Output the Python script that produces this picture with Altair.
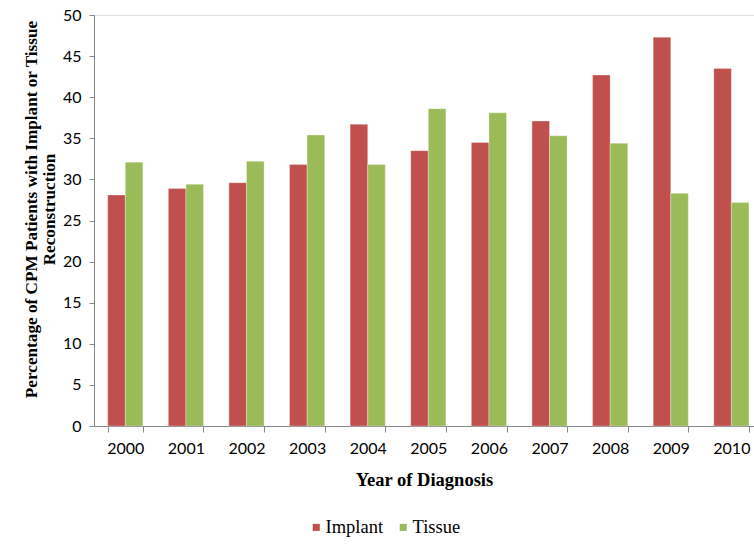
import altair as alt
import pandas as pd

years = ["2000", "2001", "2002", "2003", "2004", "2005", "2006", "2007", "2008", "2009", "2010"]
implant = [28.1, 28.9, 29.6, 31.8, 36.7, 33.5, 34.5, 37.1, 42.7, 47.3, 43.5]
tissue = [32.1, 29.4, 32.2, 35.4, 31.8, 38.6, 38.1, 35.3, 34.4, 28.3, 27.2]
series = ["Implant", "Tissue"]
colors = ["#C0504D", "#9BBB59"]

rows = []
for y, a, b in zip(years, implant, tissue):
    rows.append({"year": y, "series": "Implant", "value": a})
    rows.append({"year": y, "series": "Tissue", "value": b})
df = pd.DataFrame(rows)

chart = alt.Chart(df).mark_bar(stroke="white", strokeOpacity=0.5, strokeWidth=0.6).encode(
    x=alt.X("year:N", sort=years,
            scale=alt.Scale(paddingInner=0.42, paddingOuter=0.155, align=0.73),
            axis=alt.Axis(title="Year of Diagnosis", labelAngle=0, tickBand="extent",
                          labelFont="Lato", labelFontSize=16, labelColor="#000000",
                          labelPadding=8, tickSize=6, tickColor="#868686",
                          domainColor="#868686", titleFont="Liberation Serif",
                          titleFontSize=18.5, titleFontWeight="bold", titleColor="#000000",
                          titlePadding=14)),
    xOffset=alt.XOffset("series:N", sort=series),
    y=alt.Y("value:Q", scale=alt.Scale(domain=[0, 50], nice=False),
            axis=alt.Axis(title=["Percentage of CPM Patients with Implant or Tissue", "Reconstruction"],
                          values=list(range(0, 51, 5)), grid=False,
                          labelFont="Lato", labelFontSize=16, labelColor="#000000",
                          labelPadding=8, tickSize=5, tickColor="#868686",
                          domainColor="#868686", titleFont="Liberation Serif",
                          titleFontSize=17.2, titleFontWeight="bold", titleColor="#000000",
                          titlePadding=4, titleLineHeight=18, titleY=194)),
    color=alt.Color("series:N", sort=series,
                    scale=alt.Scale(domain=series, range=colors),
                    legend=alt.Legend(title=None, orient="none", direction="horizontal",
                                      legendX=213, legendY=503, symbolType="square",
                                      symbolSize=50, symbolStrokeWidth=0,
                                      labelFont="Liberation Serif", labelFontSize=18.5,
                                      labelColor="#000000", columnPadding=10,
                                      symbolOffset=0, labelOffset=0)),
).properties(
    width=660, height=411,
    autosize=alt.AutoSizeParams(type="none"),
    padding={"left": 94, "top": 15, "right": 0, "bottom": 118},
).configure_view(stroke=None).configure(background="white")

chart.save("out.html", embed_options={"renderer": "svg", "actions": False})
